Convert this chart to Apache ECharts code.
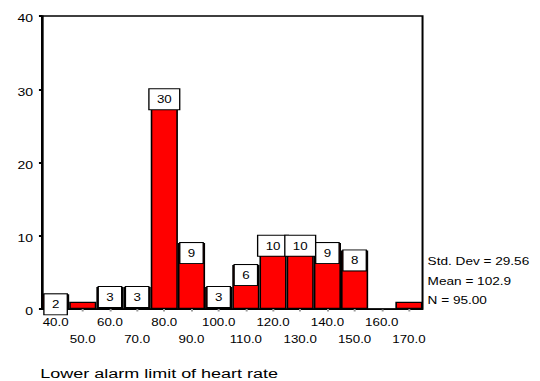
<!DOCTYPE html>
<html>
<head>
<meta charset="utf-8">
<script src="https://cdn.jsdelivr.net/npm/echarts@6.0.0/dist/echarts.min.js"></script>
<style>
  html, body { margin: 0; padding: 0; background: #fff; overflow: hidden; }
  #wrap { width: 540px; height: 381px; overflow: hidden; }
  /* The chart is laid out on a narrower canvas and widened, giving the broad
     lettering and heavier vertical strokes of the classic SPSS histogram. */
  #chart { width: 405px; height: 381px; transform: scaleX(1.3333333); transform-origin: 0 0; }
</style>
</head>
<body>
<div id="wrap"><div id="chart"></div></div>
<script>
// Histogram bins (bin midpoints) and their frequencies
const binLabels = ['40.0', '50.0', '60.0', '70.0', '80.0', '90.0', '100.0',
                   '110.0', '120.0', '130.0', '140.0', '150.0', '160.0', '170.0'];
const frequencies = [2, 1, 3, 3, 30, 9, 3, 6, 10, 10, 9, 8, 0, 1];

// Frequency axis
const freqMin = 0;
const freqMax = 40;
const freqStep = 10;

// Summary statistics printed beside the plot
const statLines = ['Std. Dev = 29.56', 'Mean = 102.9', 'N = 95.00'];
const variableName = 'Lower alarm limit of heart rate';

const FONT = 'Arial, "Liberation Sans", Helvetica, sans-serif';

const chart = echarts.init(document.getElementById('chart'), null, { renderer: 'svg' });

const statGraphics = statLines.map((line, i) => ({
  type: 'text',
  x: 320.7,
  y: 262 + i * 19.3,
  style: {
    text: line,
    fill: '#000',
    fontSize: 10.2,
    fontFamily: FONT,
    verticalAlign: 'middle'
  }
}));

chart.setOption({
  animation: false,
  backgroundColor: '#fff',
  grid: {
    left: 31.5,
    right: 88.1,
    top: 16,
    bottom: 72,
    show: true,
    borderColor: '#000',
    borderWidth: 1.5,
    backgroundColor: '#fff',
    containLabel: false,
    outerBoundsMode: 'none'
  },
  xAxis: {
    type: 'category',
    data: binLabels,
    boundaryGap: true,
    axisLine: { show: true, lineStyle: { color: '#000', width: 1 } },
    axisTick: { show: true, alignWithLabel: true, length: 2.5, lineStyle: { color: '#999', width: 1.5 } },
    axisLabel: {
      interval: 0,
      color: '#000',
      fontSize: 10,
      fontFamily: FONT,
      lineHeight: 17,
      margin: 4.5,
      hideOverlap: false,
      formatter: (v, i) => (i % 2 ? '\n' + v : v)
    },
    splitLine: { show: false }
  },
  yAxis: {
    type: 'value',
    min: freqMin,
    max: freqMax,
    interval: freqStep,
    axisLine: { show: true, lineStyle: { color: '#000', width: 1.5 } },
    axisTick: { show: true, length: 2.3, lineStyle: { color: '#000', width: 2 } },
    axisLabel: {
      color: '#000',
      fontSize: 10.5,
      fontFamily: FONT,
      margin: 6.75,
      verticalAlign: 'top',
      lineHeight: 6
    },
    splitLine: { show: false }
  },
  series: [{
    type: 'bar',
    barCategoryGap: 0,
    data: frequencies.map(v => ({ value: v, label: { show: v >= 2 } })),
    itemStyle: { color: '#ff0000', borderColor: '#000', borderWidth: 1.2 },
    label: {
      position: 'insideTop',
      distance: 0,
      color: '#000',
      fontSize: 10,
      fontFamily: FONT,
      lineHeight: 12,
      backgroundColor: '#fff',
      borderColor: '#000',
      borderWidth: 1,
      padding: [4, 5.5, 4, 5.5]
    }
  }],
  graphic: statGraphics.concat([{
    type: 'text',
    x: 30.2,
    y: 373,
    style: {
      text: variableName,
      fill: '#000',
      fontSize: 13.5,
      fontFamily: FONT,
      verticalAlign: 'middle'
    }
  }])
});
</script>
</body>
</html>
